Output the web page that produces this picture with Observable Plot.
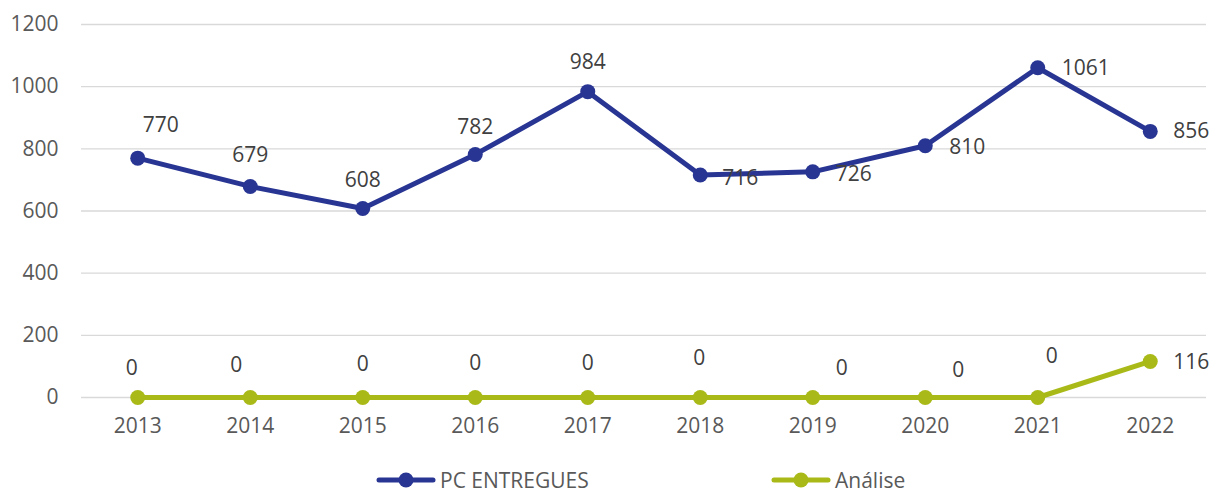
<!DOCTYPE html>
<html>
<head>
<meta charset="utf-8">
<script src="https://cdn.jsdelivr.net/npm/d3@7"></script>
<script src="https://cdn.jsdelivr.net/npm/@observablehq/plot@0.6"></script>
<style>
  html, body { margin: 0; padding: 0; background: #fff; }
  body { width: 1214px; height: 495px; overflow: hidden; font-family: "Open Sans", Lato, sans-serif; }
  #chart svg { display: block; }
  #legend { position: relative; height: 35px; }
  .item { position: absolute; top: 12px; display: flex; align-items: center; font-size: 21px; line-height: 16px; color: #595959; height: 16px; }
  .item svg { display: block; margin-right: 4px; }
</style>
</head>
<body>
<div id="chart"></div>
<div id="legend"></div>
<script>
const years = ["2013","2014","2015","2016","2017","2018","2019","2020","2021","2022"];
const pcEntregues = [770, 679, 608, 782, 984, 716, 726, 810, 1061, 856];
const analise = [0, 0, 0, 0, 0, 0, 0, 0, 0, 116];
const seriesNames = ["PC ENTREGUES", "Análise"];
const yTicks = [0, 200, 400, 600, 800, 1000, 1200];
// data-label offsets (as placed in the original chart)
const pcLabelOffset = [[23,-33],[0,-31],[0,-28],[0,-27],[0,-29],[40,3],[41,2],[42,2],[48,1],[41,0]];
const anLabelOffset = [[-6,-29],[-14,-32],[0,-33],[0,-34],[0,-34],[-1,-39],[29,-29],[33,-27],[14,-41],[41,1]];

const navy = "#283593";
const green = "#A9BA18";
const labelColor = "#404040";

const pcData = years.map((y, i) => ({year: y, value: pcEntregues[i]}));
const anData = years.map((y, i) => ({year: y, value: analise[i]}));

function labels(data, offsets) {
  return data.map((d, i) => Plot.text([d], {
    x: "year", y: "value", text: d => String(d.value),
    dx: offsets[i][0], dy: offsets[i][1],
    fill: labelColor, fontSize: 21, textAnchor: "middle"
  }));
}

const chart = Plot.plot({
  width: 1214,
  height: 460,
  marginLeft: 81,
  marginRight: 8,
  marginTop: 24,
  marginBottom: 63,
  style: {fontFamily: "'Open Sans', Lato, sans-serif", fontSize: "21px", color: "#595959", background: "#fff"},
  x: {type: "point", domain: years, padding: 0.5, round: false, label: null},
  y: {domain: [0, 1200], label: null},
  marks: [
    Plot.gridY(yTicks, {stroke: "#d9d9d9", strokeOpacity: 1, strokeWidth: 1.3}),
    Plot.axisY(yTicks, {tickSize: 0, tickPadding: 23, fill: "#595959", fontSize: 21, tickFormat: d => String(d)}),
    Plot.axisX({tickSize: 0, tickPadding: 21, fill: "#595959", fontSize: 21}),
    Plot.line(pcData, {x: "year", y: "value", stroke: navy, strokeWidth: 5}),
    Plot.dot(pcData, {x: "year", y: "value", fill: navy, r: 7.5}),
    Plot.line(anData, {x: "year", y: "value", stroke: green, strokeWidth: 5}),
    Plot.dot(anData, {x: "year", y: "value", fill: green, r: 7.5}),
    ...labels(pcData, pcLabelOffset),
    ...labels(anData, anLabelOffset)
  ]
});
document.getElementById("chart").appendChild(chart);

const legend = document.getElementById("legend");
const legendItems = [{name: seriesNames[0], color: navy, left: 376}, {name: seriesNames[1], color: green, left: 771}];
legendItems.forEach(it => {
  const div = document.createElement("div");
  div.className = "item";
  div.style.left = it.left + "px";
  div.innerHTML = `<svg width="60" height="16"><line x1="3" y1="8" x2="57" y2="8" stroke="${it.color}" stroke-width="5" stroke-linecap="round"/><circle cx="30" cy="8" r="7.5" fill="${it.color}"/></svg><span>${it.name}</span>`;
  legend.appendChild(div);
});
</script>
</body>
</html>
